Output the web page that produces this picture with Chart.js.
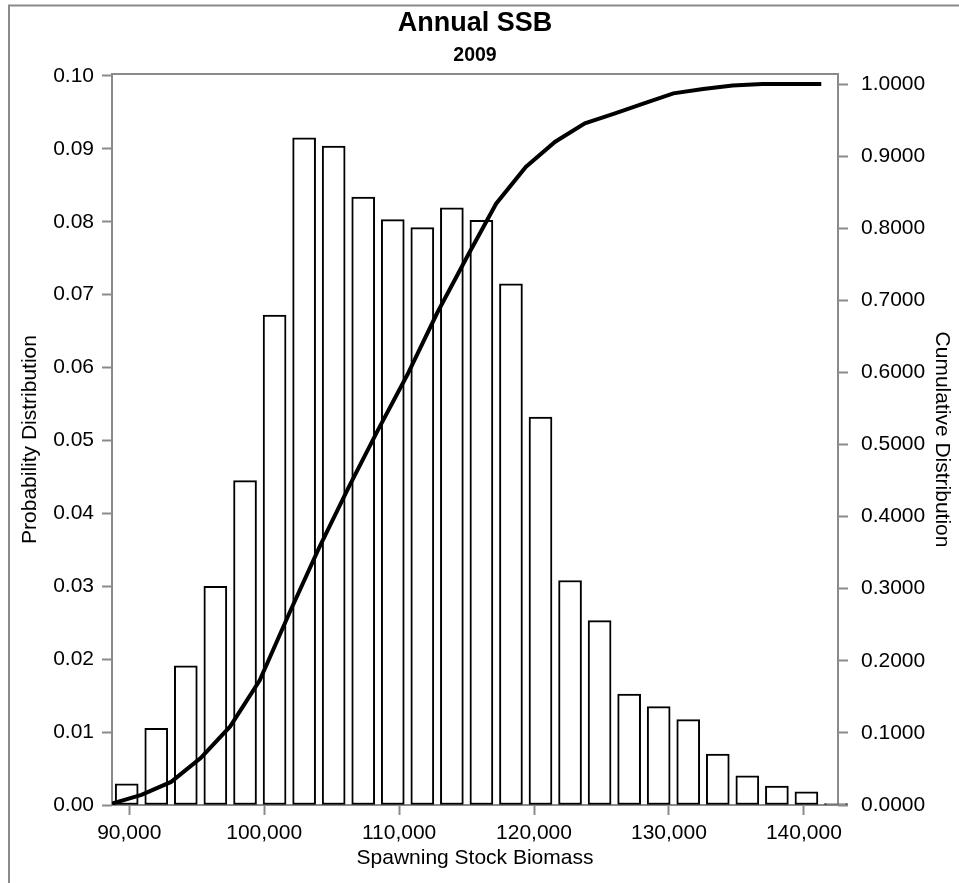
<!DOCTYPE html>
<html>
<head>
<meta charset="utf-8">
<script src="https://cdn.jsdelivr.net/npm/chart.js@4"></script>
<style>
  html, body { margin: 0; padding: 0; background: #fff; }
  #wrap { position: relative; width: 959px; height: 883px; }
</style>
</head>
<body>
<div id="wrap"><canvas id="ssb"></canvas></div>
<script>
// histogram bins (centre of each bin) and probability of each bin
const binCenters = [89810, 92000, 94190, 96380, 98580, 100770, 102960, 105150, 107340, 109530,
  111720, 113910, 116100, 118290, 120480, 122670, 124860, 127050, 129240, 131430,
  133620, 135810, 138000, 140190, 142380];
const probability = [0.0029, 0.0105, 0.0191, 0.0300, 0.0445, 0.0672, 0.0915, 0.0904, 0.0834, 0.0803,
  0.0792, 0.0819, 0.0802, 0.0715, 0.0532, 0.0308, 0.0253, 0.0152, 0.0135, 0.0117,
  0.0070, 0.0040, 0.0026, 0.0018, 0.0002];

// cumulative curve, read at the bin edges
const cumX = [88720, 90900, 93100, 95290, 97480, 99670, 101860, 104050, 106240, 108430,
  110620, 112810, 115000, 117190, 119390, 121570, 123770, 125950, 128150, 130330,
  132530, 134720, 136910, 139100, 141290];
const cumulative = [0.002, 0.014, 0.032, 0.065, 0.109, 0.173, 0.266, 0.356, 0.440, 0.520,
  0.597, 0.682, 0.759, 0.834, 0.885, 0.920, 0.9455, 0.959, 0.973, 0.987,
  0.993, 0.998, 1.0, 1.0, 1.0];

const xTicks = [90000, 100000, 110000, 120000, 130000, 140000];
const probTicks = [0, 0.01, 0.02, 0.03, 0.04, 0.05, 0.06, 0.07, 0.08, 0.09, 0.10];
const cumTicks = [0, 0.1, 0.2, 0.3, 0.4, 0.5, 0.6, 0.7, 0.8, 0.9, 1.0];

const FONT = 'Liberation Sans, Arial, Helvetica, sans-serif';
const GREY = '#8a8a8a';

// grey frames: the outer page box and the plot box
const framePlugin = {
  id: 'frames',
  beforeDatasetsDraw(chart) {
    const { ctx, chartArea: a } = chart;
    ctx.save();
    ctx.strokeStyle = GREY;
    ctx.lineWidth = 2;
    ctx.beginPath();
    ctx.moveTo(9, 883);
    ctx.lineTo(9, 5.5);
    ctx.lineTo(959, 5.5);
    ctx.stroke();
    ctx.strokeRect(a.left, a.top, a.right - a.left, a.bottom - a.top);
    ctx.restore();
  }
};

const tickGrid = {
  display: true,
  offset: false,
  drawOnChartArea: false,
  drawTicks: true,
  tickLength: 10,
  tickColor: GREY,
  tickWidth: 2,
  color: GREY
};

new Chart(document.getElementById('ssb'), {
  data: {
    datasets: [
      {
        type: 'line',
        label: 'Cumulative Distribution',
        data: cumX.map((x, i) => ({ x: x, y: cumulative[i] })),
        yAxisID: 'y2',
        borderColor: '#000',
        borderWidth: 4,
        pointRadius: 0,
        tension: 0,
        fill: false,
        order: 0
      },
      {
        type: 'bar',
        label: 'Probability Distribution',
        data: binCenters.map((x, i) => ({ x: x, y: probability[i] })),
        yAxisID: 'y',
        backgroundColor: '#fff',
        borderColor: '#000',
        borderWidth: 2,
        borderSkipped: false,
        barThickness: 23,
        clip: false,
        order: 1
      }
    ]
  },
  options: {
    responsive: true,
    maintainAspectRatio: false,
    animation: false,
    layout: { padding: { left: 10, right: 0, top: 0, bottom: 0 } },
    plugins: {
      legend: { display: false },
      tooltip: { enabled: false },
      title: {
        display: true,
        text: 'Annual SSB',
        fullSize: false,
        color: '#000',
        font: { family: FONT, size: 27, weight: 'bold' },
        padding: { top: 7, bottom: 0 }
      },
      subtitle: {
        display: true,
        text: '2009',
        fullSize: false,
        color: '#000',
        font: { family: FONT, size: 19.5, weight: 'bold' },
        padding: { top: 4.4, bottom: 6.8 }
      }
    },
    scales: {
      x: {
        type: 'linear',
        position: 'bottom',
        min: 88720,
        max: 142530,
        offset: false,
        afterFit: s => { s.height = 78; },
        afterBuildTicks: s => { s.ticks = xTicks.map(v => ({ value: v })); },
        grid: tickGrid,
        border: { display: false },
        ticks: {
          color: '#000',
          font: { family: FONT, size: 21 },
          padding: 6,
          maxRotation: 0,
          callback: v => v.toLocaleString('en-US')
        },
        title: {
          display: true,
          text: 'Spawning Stock Biomass',
          color: '#000',
          font: { family: FONT, size: 21 },
          padding: { top: 0, bottom: 12.4 }
        }
      },
      y: {
        type: 'linear',
        position: 'left',
        min: 0,
        max: 0.10027,
        afterFit: s => { s.width = 102; },
        afterBuildTicks: s => { s.ticks = probTicks.map(v => ({ value: v })); },
        grid: tickGrid,
        border: { display: false },
        ticks: {
          color: '#000',
          font: { family: FONT, size: 21 },
          padding: 8,
          callback: v => v.toFixed(2)
        },
        title: {
          display: true,
          text: 'Probability Distribution',
          color: '#000',
          font: { family: FONT, size: 21 },
          padding: { top: 7.4, bottom: 0 }
        }
      },
      y2: {
        type: 'linear',
        position: 'right',
        min: 0,
        max: 1.01387,
        afterFit: s => { s.width = 121; },
        afterBuildTicks: s => { s.ticks = cumTicks.map(v => ({ value: v })); },
        grid: tickGrid,
        border: { display: false },
        ticks: {
          color: '#000',
          font: { family: FONT, size: 21 },
          padding: 13,
          callback: v => v.toFixed(4)
        },
        title: {
          display: true,
          text: 'Cumulative Distribution',
          color: '#000',
          font: { family: FONT, size: 21 },
          padding: { top: 4.4, bottom: 0 }
        }
      }
    }
  },
  plugins: [framePlugin]
});
</script>
</body>
</html>
